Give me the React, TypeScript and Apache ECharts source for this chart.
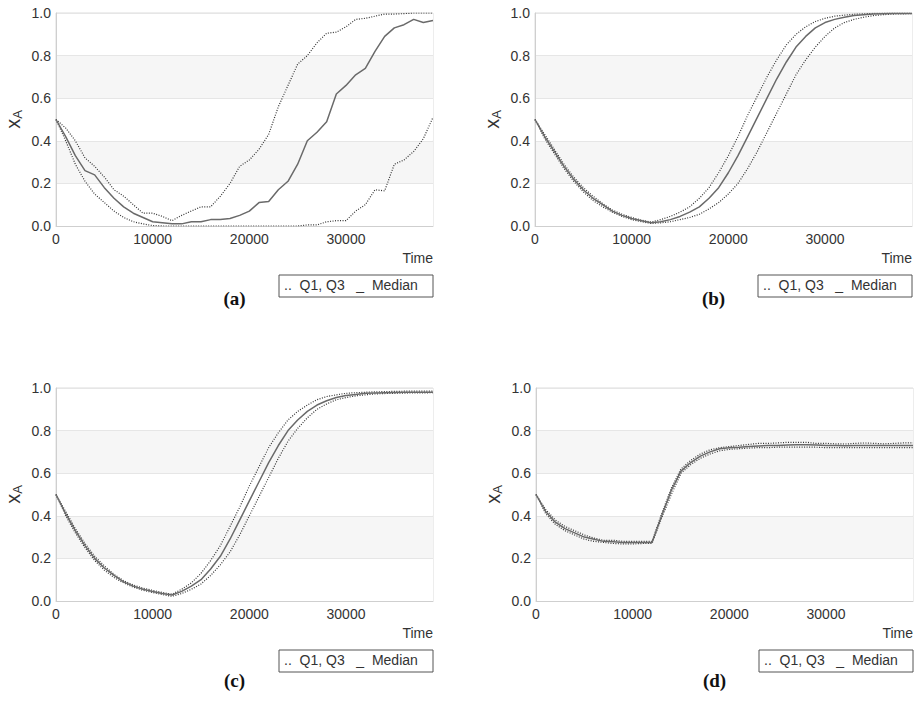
import * as echarts from 'echarts';
import { useEffect, useRef } from 'react';

const TIMES = Array.from({ length: 40 }, (_, i) => i * 1000);

// panel (a)
const A_MED = [0.5, 0.42, 0.33, 0.26, 0.24, 0.18, 0.13, 0.09, 0.06, 0.04, 0.02, 0.015, 0.01, 0.01, 0.02, 0.02, 0.03, 0.03, 0.035, 0.05, 0.07, 0.11, 0.115, 0.17, 0.21, 0.29, 0.4, 0.44, 0.49, 0.62, 0.66, 0.71, 0.74, 0.82, 0.89, 0.93, 0.945, 0.97, 0.955, 0.965];
const A_Q3 = [0.5, 0.46, 0.4, 0.32, 0.28, 0.23, 0.17, 0.14, 0.1, 0.06, 0.06, 0.045, 0.025, 0.05, 0.07, 0.09, 0.09, 0.14, 0.2, 0.28, 0.31, 0.36, 0.43, 0.56, 0.66, 0.76, 0.8, 0.86, 0.905, 0.91, 0.935, 0.97, 0.975, 0.985, 0.995, 0.995, 0.997, 1.0, 1.0, 1.0];
const A_Q1 = [0.5, 0.4, 0.29, 0.21, 0.15, 0.11, 0.07, 0.04, 0.02, 0.01, 0.002, 0, 0, 0, 0, 0, 0, 0, 0, 0, 0, 0, 0, 0, 0, 0, 0.005, 0.005, 0.02, 0.025, 0.025, 0.07, 0.1, 0.17, 0.165, 0.29, 0.31, 0.35, 0.41, 0.51];

// panel (b)
const B_MED = [0.5, 0.42, 0.35, 0.28, 0.22, 0.17, 0.13, 0.1, 0.07, 0.05, 0.035, 0.025, 0.015, 0.02, 0.03, 0.045, 0.065, 0.09, 0.13, 0.18, 0.25, 0.33, 0.42, 0.51, 0.6, 0.69, 0.77, 0.84, 0.89, 0.93, 0.955, 0.97, 0.98, 0.988, 0.992, 0.995, 0.997, 0.998, 0.998, 0.998];
const B_Q3 = [0.5, 0.43, 0.36, 0.29, 0.23, 0.18, 0.14, 0.105, 0.075, 0.055, 0.04, 0.028, 0.018, 0.03, 0.045, 0.065, 0.09, 0.13, 0.18, 0.25, 0.33, 0.42, 0.52, 0.61, 0.7, 0.78, 0.85, 0.9, 0.935, 0.96, 0.975, 0.985, 0.99, 0.994, 0.996, 0.998, 0.999, 0.999, 0.999, 0.999];
const B_Q1 = [0.5, 0.41, 0.34, 0.27, 0.21, 0.16, 0.12, 0.09, 0.065, 0.045, 0.03, 0.02, 0.012, 0.015, 0.02, 0.03, 0.04, 0.055, 0.08, 0.11, 0.15, 0.2, 0.27, 0.35, 0.44, 0.53, 0.62, 0.71, 0.78, 0.84, 0.89, 0.93, 0.955, 0.97, 0.98, 0.988, 0.992, 0.995, 0.996, 0.997];

// panel (c)
const C_MED = [0.5, 0.41, 0.33, 0.26, 0.2, 0.155, 0.12, 0.09, 0.07, 0.055, 0.045, 0.035, 0.028, 0.045, 0.07, 0.1, 0.15, 0.21, 0.29, 0.38, 0.47, 0.56, 0.65, 0.73, 0.8, 0.85, 0.89, 0.92, 0.94, 0.955, 0.965, 0.97, 0.975, 0.977, 0.978, 0.979, 0.98, 0.98, 0.98, 0.98];
const C_Q3 = [0.5, 0.42, 0.34, 0.27, 0.21, 0.165, 0.125, 0.095, 0.075, 0.06, 0.05, 0.04, 0.032, 0.055, 0.085, 0.13, 0.19, 0.26, 0.35, 0.44, 0.54, 0.63, 0.72, 0.79, 0.85, 0.89, 0.92, 0.945, 0.96, 0.968, 0.975, 0.978, 0.98, 0.982, 0.983, 0.984, 0.985, 0.985, 0.985, 0.985];
const C_Q1 = [0.5, 0.4, 0.32, 0.25, 0.19, 0.145, 0.11, 0.085, 0.065, 0.05, 0.04, 0.03, 0.022, 0.035, 0.055, 0.08, 0.12, 0.17, 0.23, 0.31, 0.4, 0.49, 0.58, 0.67, 0.75, 0.81, 0.86, 0.9, 0.925, 0.945, 0.955, 0.963, 0.968, 0.972, 0.974, 0.975, 0.976, 0.977, 0.977, 0.978];

// panel (d)
const D_MED = [0.5, 0.42, 0.37, 0.34, 0.32, 0.3, 0.29, 0.28, 0.278, 0.275, 0.275, 0.275, 0.275, 0.4, 0.52, 0.61, 0.65, 0.68, 0.7, 0.715, 0.72, 0.722, 0.725, 0.728, 0.73, 0.73, 0.732, 0.733, 0.733, 0.732, 0.73, 0.73, 0.729, 0.73, 0.73, 0.73, 0.73, 0.73, 0.73, 0.73];
const D_Q3 = [0.5, 0.43, 0.38, 0.35, 0.33, 0.31, 0.295, 0.285, 0.285, 0.28, 0.28, 0.28, 0.28, 0.41, 0.53, 0.62, 0.66, 0.69, 0.71, 0.72, 0.725, 0.73, 0.735, 0.74, 0.74, 0.742, 0.745, 0.745, 0.745, 0.74, 0.74, 0.738, 0.737, 0.74, 0.742, 0.74, 0.738, 0.74, 0.742, 0.742];
const D_Q1 = [0.5, 0.41, 0.36, 0.33, 0.31, 0.29, 0.28, 0.275, 0.27, 0.268, 0.268, 0.27, 0.27, 0.39, 0.5, 0.6, 0.64, 0.67, 0.69, 0.705, 0.712, 0.715, 0.718, 0.72, 0.72, 0.722, 0.722, 0.722, 0.722, 0.722, 0.72, 0.72, 0.72, 0.72, 0.72, 0.72, 0.72, 0.72, 0.72, 0.72];

const PANELS = [
  { label: '(a)', med: A_MED, q1: A_Q1, q3: A_Q3 },
  { label: '(b)', med: B_MED, q1: B_Q1, q3: B_Q3 },
  { label: '(c)', med: C_MED, q1: C_Q1, q3: C_Q3 },
  { label: '(d)', med: D_MED, q1: D_Q1, q3: D_Q3 },
];

// plot rectangles in page pixels (chart div covers the whole window)
const RECTS = [
  { left: 56, top: 13, right: 433, bottom: 226 },
  { left: 535, top: 13, right: 912, bottom: 226 },
  { left: 56, top: 388, right: 433, bottom: 601 },
  { left: 536, top: 388, right: 913, bottom: 601 },
];

const FONT = 'Liberation Sans, Arial, sans-serif';

export default function App() {
  const ref = useRef<HTMLDivElement | null>(null);

  useEffect(() => {
    if (!ref.current) return undefined;
    const chart = echarts.init(ref.current, undefined, { renderer: 'svg' });
    const pair = (ys: number[]) => TIMES.map((t, i) => [t, ys[i]]);

    const grid = RECTS.map((r) => ({
      left: r.left,
      top: r.top,
      width: r.right - r.left,
      height: r.bottom - r.top,
      show: true,
      borderColor: '#dcdcdc',
      borderWidth: 1,
    }));
    const xAxis = RECTS.map((_, i) => ({
      type: 'value',
      gridIndex: i,
      min: 0,
      max: 39000,
      interval: 10000,
      axisLine: { show: true, lineStyle: { color: '#cfcfcf' } },
      axisTick: { show: false },
      splitLine: { show: false },
      axisLabel: {
        color: '#333',
        fontFamily: FONT,
        fontSize: 14,
        margin: 6,
        showMaxLabel: false,
        formatter: (v: number) => String(v),
      },
    }));
    const yAxis = RECTS.map((_, i) => ({
      type: 'value',
      gridIndex: i,
      min: 0,
      max: 1,
      interval: 0.2,
      name: '{x|x}{s|A}',
      nameLocation: 'middle',
      nameGap: 32,
      nameRotate: 90,
      nameTextStyle: {
        rich: {
          x: { fontSize: 20, fontFamily: FONT, color: '#333' },
          s: { fontSize: 13, fontFamily: FONT, color: '#333', verticalAlign: 'bottom', padding: [10, 0, 0, 0] },
        },
      },
      axisLine: { show: true, lineStyle: { color: '#cfcfcf' } },
      axisTick: { show: false },
      splitLine: { show: true, lineStyle: { color: '#e6e6e6' } },
      splitArea: { show: true, areaStyle: { color: ['#ffffff', '#f6f6f6'] } },
      axisLabel: {
        color: '#333',
        fontFamily: FONT,
        fontSize: 14,
        margin: 5,
        formatter: (v: number) => v.toFixed(1),
      },
    }));

    const series: any[] = [];
    PANELS.forEach((p, i) => {
      const dotted = { color: '#333', width: 1.2, type: [1, 1.5] };
      series.push(
        { type: 'line', xAxisIndex: i, yAxisIndex: i, data: pair(p.q3), showSymbol: false, lineStyle: dotted },
        { type: 'line', xAxisIndex: i, yAxisIndex: i, data: pair(p.q1), showSymbol: false, lineStyle: dotted },
        { type: 'line', xAxisIndex: i, yAxisIndex: i, data: pair(p.med), showSymbol: false, lineStyle: { color: '#6a6a6a', width: 1.5 } },
      );
    });

    const graphic: any[] = [];
    RECTS.forEach((r, i) => {
      graphic.push(
        {
          type: 'text',
          x: r.right,
          y: r.bottom + 25,
          style: { text: 'Time', fill: '#333', font: `14px ${FONT}`, textAlign: 'right' },
        },
        {
          type: 'rect',
          shape: { x: r.right - 154, y: r.bottom + 49, width: 154, height: 22 },
          style: { fill: '#fff', stroke: '#555', lineWidth: 1 },
        },
        {
          type: 'text',
          x: r.right - 149,
          y: r.bottom + 52,
          style: { text: '..  Q1, Q3   _  Median', fill: '#333', font: `14px ${FONT}` },
        },
        {
          type: 'text',
          x: (r.left + r.right) / 2 - 10,
          y: r.bottom + 63 + (i < 2 ? 0 : 7),
          style: {
            text: PANELS[i].label,
            fill: '#111',
            font: `bold 19px "Liberation Serif", "Times New Roman", serif`,
            textAlign: 'center',
          },
        },
      );
    });

    chart.setOption({
      animation: false,
      grid,
      xAxis,
      yAxis,
      series,
      graphic,
    });
    const onResize = () => chart.resize();
    window.addEventListener('resize', onResize);
    return () => {
      window.removeEventListener('resize', onResize);
      chart.dispose();
    };
  }, []);

  return <div ref={ref} style={{ position: 'absolute', left: 0, top: 0, width: 916, height: 723 }} />;
}
